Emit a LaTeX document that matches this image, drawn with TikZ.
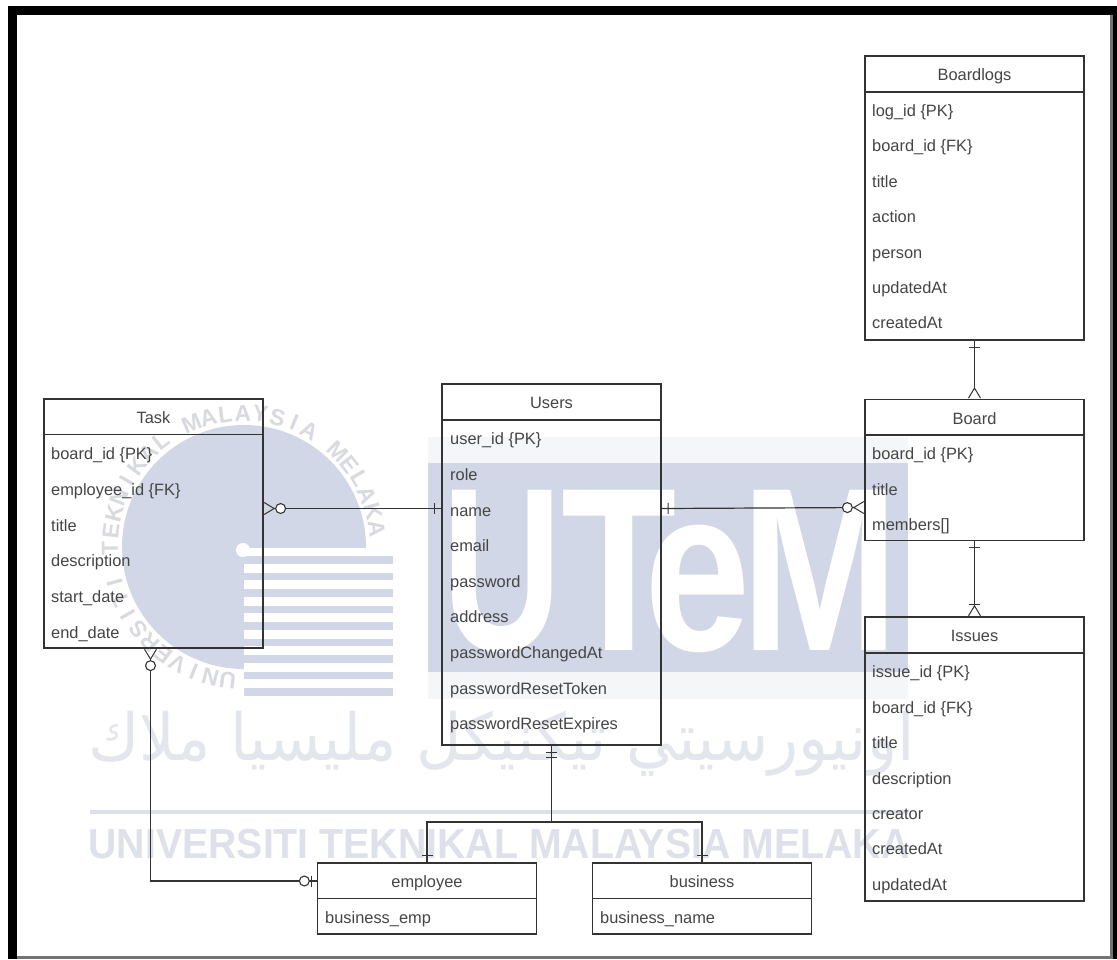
\documentclass[tikz,border=0pt]{standalone}
\usepackage{fontspec}
\setmainfont{Liberation Sans}
\newfontfamily\arabicfont[Script=Arabic]{DejaVu Sans}
\TeXXeTstate=1
\usetikzlibrary{arrows.meta,calc}
\definecolor{wmblue}{RGB}{209,215,230}
\definecolor{wmpale}{RGB}{245,246,248}
\definecolor{wmgray}{RGB}{216,218,224}
\definecolor{wmtext}{RGB}{222,225,234}
\definecolor{wmarab}{RGB}{228,230,237}
\definecolor{inkline}{gray}{0.2}
\definecolor{inktext}{gray}{0.27}
\tikzset{
  onebar/.tip={Bar[width=11pt,line width=1pt,sep=6pt]Bar[width=0pt,length=0pt,line width=0pt].},
  twobar/.tip={Bar[width=11pt,line width=1pt,sep=4pt]Bar[width=11pt,line width=1pt,sep=6pt]Bar[width=0pt,length=0pt,line width=0pt].},
  crowfoot/.tip={Straight Barb[reversed,length=10pt,width=12pt,line width=1pt].},
  zerocrow/.tip={Circle[open,length=11pt,width=11pt,line width=1.1pt,fill=white,sep=0pt]Straight Barb[reversed,length=10pt,width=12pt,line width=1pt].},
  onecrow/.tip={Bar[width=11pt,line width=1pt,sep=0pt]Straight Barb[reversed,length=10pt,width=12pt,line width=1pt].},
  zerobar/.tip={Circle[open,length=11pt,width=11pt,line width=1.1pt,fill=white,sep=1pt]Bar[width=11pt,line width=1pt,sep=5pt]Bar[width=0pt,length=0pt,line width=0pt].},
  tablebox/.style={draw=inkline,line width=1.3pt,minimum width=219pt,inner sep=0pt},
  headcell/.style={font=\fontsize{16.4}{18}\selectfont,text=inktext,inner sep=0pt,text height=15pt,text depth=3pt},
  rowcell/.style={font=\fontsize{16.4}{18}\selectfont,text=inktext,anchor=west,inner sep=0pt,text height=15pt,text depth=3pt},
  erline/.style={draw=inkline,line width=1.2pt},
  utemletter/.style={font=\fontsize{233}{233}\selectfont\bfseries,text=white,inner sep=0pt,anchor=base},
  sealtext/.style={font=\fontsize{23}{23}\selectfont\bfseries,text=wmgray,inner sep=0pt}
}
\begin{document}
\begin{tikzpicture}[x=1pt,y=-1pt]
\useasboundingbox (0,0) rectangle (1117,959);
\fill[black] (8,6) rectangle (1117,959);
\fill[white] (17,15) rectangle (1112,957.5);
\draw[draw=black!55,line width=2.5pt] (1111.5,15) -- (1111.5,957.5) -- (17,957.5);
% watermark
\fill[wmpale] (428,437) rectangle (908,699);
\fill[wmblue] (428,463) rectangle (908,672);
\node[utemletter] (utemu) at (502,650) {\scalebox{0.71}[1]{U}};
\node[utemletter] (utemt) at (619,650) {\scalebox{0.81}[1]{T}};
\node[utemletter] (uteme) at (697.5,650) {\scalebox{0.82}[1]{e}};
\node[utemletter] (utemm) at (820,650) {\scalebox{0.81}[1]{M}};
\fill[wmblue] (244,547) circle (122pt);
\fill[white] (244,548) rectangle (393,700);
\foreach \k in {0,...,8}
  \fill[wmblue] (244,556+16.5*\k) rectangle (393,563.5+16.5*\k);
\fill[white] (243,550) circle (7pt);
\foreach \ch [count=\n from 0] in {U,N,I,V,E,R,S,I,T,I,{},T,E,K,N,I,K,A,L,{},M,A,L,A,Y,S,I,A,{},M,E,L,A,K,A} {
  \pgfmathsetmacro{\ang}{263-7.5*\n}
  \node[sealtext,rotate=\ang-90] (seal\n) at ($(244,547)+(\ang:134pt)$) {\ch};
}
\node[font=\fontsize{65}{65}\selectfont\arabicfont,text=wmarab,inner sep=0pt,anchor=base] (jawi) at (501.5,760) {\scalebox{0.96}[1]{\beginR اونيورسيتي تيكنيكل مليسيا ملاك\endR}};
\fill[wmtext] (90,809.5) rectangle (908,814);
\node[font=\fontsize{42}{42}\selectfont\bfseries,text=wmtext,inner sep=0pt,anchor=base] (uname) at (499,858) {\scalebox{0.935}[1]{UNIVERSITI TEKNIKAL MALAYSIA MELAKA}};
% tables
\node[tablebox,minimum height=284pt] (boardlogs) at (974.5,198) {};
\node[headcell] (boardlogshead) at (974.5,74) {Boardlogs};
\draw[erline] (864.5,92) -- (1084,92);
\node[rowcell] (logrow1) at (872,110) {log\_id \{PK\}};
\node[rowcell] (logrow2) at (872,145.5) {board\_id \{FK\}};
\node[rowcell] (logrow3) at (872,181) {title};
\node[rowcell] (logrow4) at (872,216) {action};
\node[rowcell] (logrow5) at (872,252) {person};
\node[rowcell] (logrow6) at (872,287) {updatedAt};
\node[rowcell] (logrow7) at (872,322.5) {createdAt};
\node[tablebox,minimum height=141.5pt] (board) at (974.5,470) {};
\node[headcell] (boardhead) at (974.5,418) {Board};
\draw[erline] (864.5,435) -- (1084,435);
\node[rowcell] (brdrow1) at (872,453) {board\_id \{PK\}};
\node[rowcell] (brdrow2) at (872,489) {title};
\node[rowcell] (brdrow3) at (872,524.5) {members[]};
\node[tablebox,minimum height=284pt] (issues) at (974.5,759) {};
\node[headcell] (issueshead) at (974.5,635) {Issues};
\draw[erline] (864.5,653) -- (1084,653);
\node[rowcell] (issrow1) at (872,671) {issue\_id \{PK\}};
\node[rowcell] (issrow2) at (872,707) {board\_id \{FK\}};
\node[rowcell] (issrow3) at (872,742) {title};
\node[rowcell] (issrow4) at (872,778) {description};
\node[rowcell] (issrow5) at (872,813) {creator};
\node[rowcell] (issrow6) at (872,848.5) {createdAt};
\node[rowcell] (issrow7) at (872,884) {updatedAt};
\node[tablebox,minimum height=361pt] (users) at (551.5,564.5) {};
\node[headcell] (usershead) at (551.5,402) {Users};
\draw[erline] (442,420) -- (661,420);
\node[rowcell] (usrrow1) at (450,438) {user\_id \{PK\}};
\node[rowcell] (usrrow2) at (450,474) {role};
\node[rowcell] (usrrow3) at (450,510) {name};
\node[rowcell] (usrrow4) at (450,545) {email};
\node[rowcell] (usrrow5) at (450,581) {password};
\node[rowcell] (usrrow6) at (450,616) {address};
\node[rowcell] (usrrow7) at (450,652) {passwordChangedAt};
\node[rowcell] (usrrow8) at (450,688) {passwordResetToken};
\node[rowcell] (usrrow9) at (450,723) {passwordResetExpires};
\node[tablebox,minimum height=249pt] (task) at (153.5,523.5) {};
\node[headcell] (taskhead) at (153.5,417) {Task};
\draw[erline] (44,434.5) -- (263,434.5);
\node[rowcell] (tskrow1) at (51,453) {board\_id \{PK\}};
\node[rowcell] (tskrow2) at (51,489) {employee\_id \{FK\}};
\node[rowcell] (tskrow3) at (51,525) {title};
\node[rowcell] (tskrow4) at (51,560) {description};
\node[rowcell] (tskrow5) at (51,596) {start\_date};
\node[rowcell] (tskrow6) at (51,632) {end\_date};
\node[tablebox,minimum height=71pt] (employee) at (427,898.5) {};
\node[headcell] (employeehead) at (427,881) {employee};
\draw[erline] (317.5,898.5) -- (536.5,898.5);
\node[rowcell] (emprow1) at (325,917) {business\_emp};
\node[tablebox,minimum height=71pt] (business) at (702,898.5) {};
\node[headcell] (businesshead) at (702,881) {business};
\draw[erline] (592.5,898.5) -- (811.5,898.5);
\node[rowcell] (busrow1) at (600,917) {business\_name};
% relations
\coordinate (split) at (551.5,822);
\draw[erline,{zerocrow}-{onebar}] ([yshift=15pt]task.east) -- ([yshift=56pt]users.west);
\draw[erline,{onebar}-{zerocrow}] ([yshift=56pt]users.east) -- ([yshift=-37.5pt]board.west);
\draw[erline,{onebar}-{crowfoot}] (boardlogs.south) -- (board.north);
\draw[erline,{onebar}-{onecrow}] (board.south) -- (issues.north);
\draw[erline,{zerocrow}-{zerobar}] ([xshift=-3pt]task.south) |- ([yshift=17.5pt]employee.west);
\draw[erline,{twobar}-] (users.south) -- (split);
\draw[erline,-{onebar}] (split) -| (employee.north);
\draw[erline,-{onebar}] (split) -| (business.north);
\end{tikzpicture}
\end{document}
